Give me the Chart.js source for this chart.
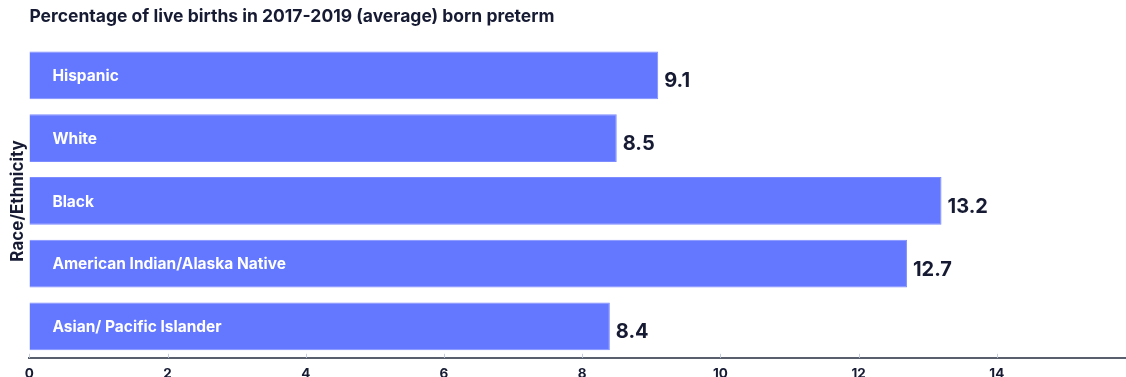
<!DOCTYPE html>
<html>
<head>
<meta charset="utf-8">
<script src="https://cdn.jsdelivr.net/npm/chart.js@4/dist/chart.umd.min.js"></script>
<style>
  html, body { margin: 0; padding: 0; background: #fff; overflow: hidden; }
  #wrap { width: 1160px; height: 390px; }
</style>
</head>
<body>
<div id="wrap"><canvas id="chart"></canvas></div>
<script>
const groups = ['Hispanic', 'White', 'Black', 'American Indian/Alaska Native', 'Asian/ Pacific Islander'];
const pretermPct = [9.1, 8.5, 13.2, 12.7, 8.4];
const xTicks = [0, 2, 4, 6, 8, 10, 12, 14, 16];
const chartTitle = 'Percentage of live births in 2017-2019 (average) born preterm';

const INK = '#161b33';
const BAR = '#6477ff';
const FONT = 'Inter, "Open Sans", sans-serif';

// heading sits flush with the plot's left edge
const heading = {
  id: 'heading',
  afterDraw(chart) {
    const { ctx, chartArea } = chart;
    ctx.save();
    ctx.fillStyle = INK;
    ctx.font = `bold 17.5px ${FONT}`;
    ctx.textAlign = 'left';
    ctx.textBaseline = 'middle';
    ctx.fillText(chartTitle, chartArea.left, 17);
    ctx.restore();
  }
};

// category names inside the bars, values just past the bar ends
const barText = {
  id: 'barText',
  afterDatasetsDraw(chart) {
    const { ctx } = chart;
    const meta = chart.getDatasetMeta(0);
    ctx.save();
    ctx.textBaseline = 'middle';
    ctx.textAlign = 'left';
    meta.data.forEach((bar, i) => {
      ctx.fillStyle = '#fff';
      ctx.font = `bold 15.5px ${FONT}`;
      ctx.fillText(groups[i], bar.base + 23, bar.y + 1);
      ctx.fillStyle = INK;
      ctx.font = `bold 20px ${FONT}`;
      ctx.fillText(pretermPct[i].toFixed(1), bar.x + 6, bar.y + 6);
    });
    ctx.restore();
  }
};

// short tick marks sitting on top of the axis line
const tickMarks = {
  id: 'tickMarks',
  afterDraw(chart) {
    const { ctx } = chart;
    const x = chart.scales.x;
    const y = chart.chartArea.bottom;
    ctx.save();
    ctx.strokeStyle = '#c5cde0';
    ctx.lineWidth = 1;
    xTicks.forEach(v => {
      const px = Math.round(x.getPixelForValue(v)) + 0.5;
      ctx.beginPath();
      ctx.moveTo(px, y - 4);
      ctx.lineTo(px, y);
      ctx.stroke();
    });
    ctx.restore();
  }
};

new Chart(document.getElementById('chart'), {
  type: 'bar',
  data: {
    labels: groups,
    datasets: [{
      data: pretermPct,
      backgroundColor: BAR,
      borderColor: '#7d8dff',
      borderWidth: 1,
      barPercentage: 0.76,
      categoryPercentage: 1
    }]
  },
  options: {
    indexAxis: 'y',
    responsive: true,
    maintainAspectRatio: false,
    animation: false,
    layout: { padding: { left: 8, right: 25, top: 44, bottom: 0 } },
    plugins: {
      legend: { display: false },
      tooltip: { enabled: false },
      title: { display: false }
    },
    scales: {
      x: {
        min: 0,
        max: 16,
        afterBuildTicks: axis => { axis.ticks = xTicks.map(v => ({ value: v })); },
        grid: { display: false, drawTicks: false },
        border: { display: true, color: '#5a5f6e', width: 2 },
        ticks: {
          color: INK,
          padding: 8,
          font: { family: FONT, size: 13.5, weight: 'bold' }
        }
      },
      y: {
        grid: { display: false, drawTicks: false },
        border: { display: false },
        ticks: { display: false },
        title: {
          display: true,
          text: 'Race/Ethnicity',
          color: INK,
          font: { family: FONT, size: 17, weight: 'bold' },
          padding: { top: 0, bottom: 1 }
        }
      }
    }
  },
  plugins: [heading, barText, tickMarks]
});
</script>
</body>
</html>
